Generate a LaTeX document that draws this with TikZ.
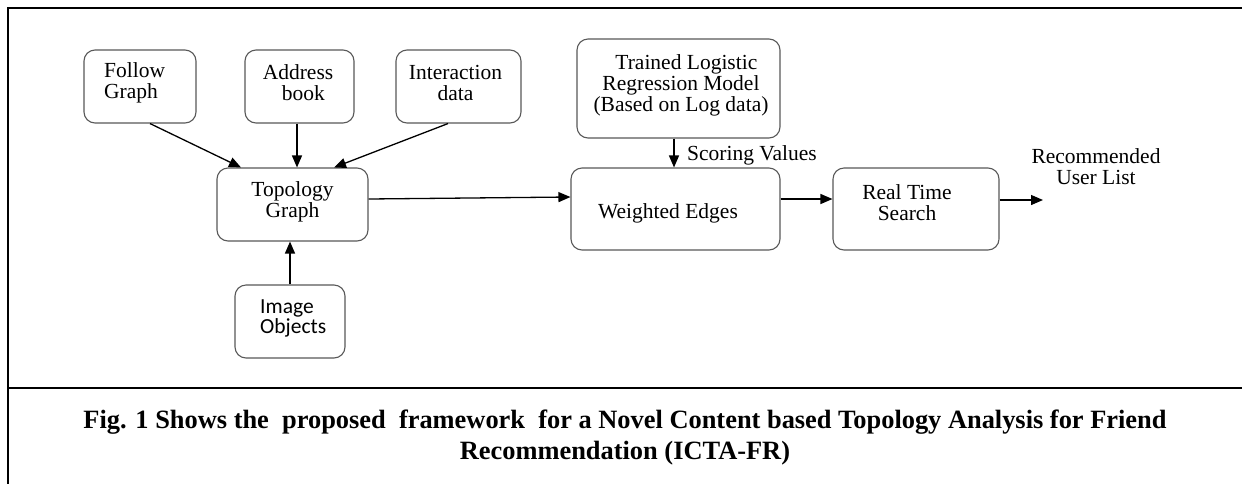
\documentclass[tikz,border=0pt]{standalone}
\usepackage{fontspec}
\setmainfont{Liberation Serif}
\newfontfamily\calib{Carlito}
\usetikzlibrary{arrows.meta,calc}
\begin{document}
\begin{tikzpicture}[x=1pt,y=-1pt,
 box/.style={draw=black!65, line width=1.1pt, rounded corners=11pt, inner sep=0pt},
 txt/.style={font=\fontsize{21.5}{21}\selectfont, inner sep=0pt, align=center},
 arr/.style={-{Triangle[length=12pt,width=10pt]}, line width=1.3pt},
 frame/.style={line width=2.6pt}]
\useasboundingbox (0,0) rectangle (1242,483);
\fill[white] (0,0) rectangle (1242,483);
\draw[frame] (8,500) -- (8,8) -- (1260,8);
\draw[frame] (8,388) -- (1260,388);
% boxes
\node[box, minimum width=112pt, minimum height=73pt] (fg) at (140,86.5) {};
\node[box, minimum width=109pt, minimum height=73pt] (ab) at (299.5,86.5) {};
\node[box, minimum width=125pt, minimum height=73pt] (id) at (458.5,86.5) {};
\node[box, minimum width=151pt, minimum height=73pt] (tg) at (292.5,204.5) {};
\node[box, minimum width=110pt, minimum height=73pt] (io) at (290,321.5) {};
\node[box, minimum width=203pt, minimum height=99pt] (tm) at (678.5,88.5) {};
\node[box, minimum width=209pt, minimum height=82pt] (we) at (675.5,209) {};
\node[box, minimum width=166pt, minimum height=82pt] (rt) at (916,209) {};
% texts
\node[txt, align=left, anchor=west] (fgT) at (104,82.5) {Follow\\Graph};
\node[txt] (abT) at (298,82.5) {Address\\\ \ book};
\node[txt] (idT) at (455.5,82.5) {Interaction\\data};
\node[txt] (tgT) at (292.5,202) {Topology\\Graph};
\node[txt, align=left, anchor=west, font=\calib\fontsize{21.5}{20}\selectfont] (ioT) at (260,318) {Image\\Objects};
\node[txt] (tmT) at (681,85) {\ \ Trained Logistic\\Regression Model\\(Based on Log data)};
\node[txt] (weT) at (668,213) {Weighted Edges};
\node[txt] (rtT) at (907,203) {Real Time\\Search};
\node[txt, anchor=west] (svT) at (687,155) {Scoring Values};
\node[txt] (ruT) at (1096,167) {Recommended\\User List};
\coordinate (out) at (1043,200);
% arrows
\draw[arr] ([xshift=10pt]fg.south) -- ([xshift=-51.5pt]tg.north);
\draw[arr] ([xshift=-2.5pt]ab.south) -- ([xshift=4.5pt]tg.north);
\draw[arr] ([xshift=-10.5pt]id.south) -- ([xshift=41.5pt]tg.north);
\draw[arr] (io.north) -- ([xshift=-2.5pt]tg.south);
\draw[arr] ([yshift=5.5pt]tg.east) -- ([yshift=12pt]we.west);
\draw[arr] ([xshift=-4.5pt]tm.south) -- ([xshift=-1.5pt]we.north);
\draw[arr] ([yshift=10pt]we.east) -- ([yshift=10pt]rt.west);
\draw[arr] ([yshift=9pt]rt.east) -- (out);
% caption
\node[font=\bfseries\fontsize{26.4}{31}\selectfont, align=center, inner sep=0pt] (cap) at (625,437.5)
 {Fig. 1 Shows the\ \ proposed\ \ framework\ \ for a Novel Content based Topology Analysis for Friend\\Recommendation (ICTA-FR)};
\end{tikzpicture}
\end{document}
